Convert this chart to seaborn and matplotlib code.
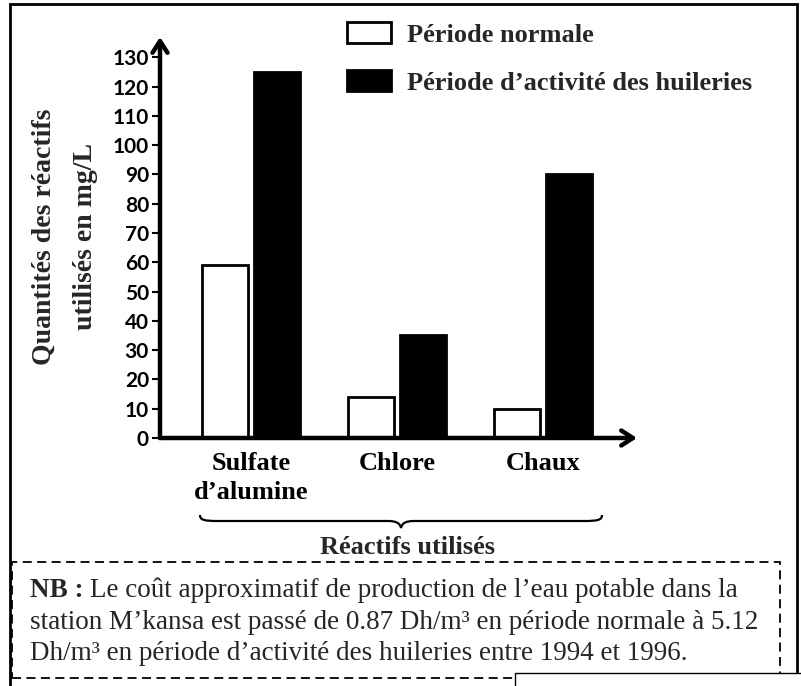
import matplotlib
matplotlib.use("Agg")
import matplotlib.pyplot as plt
from matplotlib.patches import Rectangle, PathPatch, Patch
from matplotlib.path import Path
import pandas as pd
import seaborn as sns

# data
reactifs = ["Sulfate\nd’alumine", "Chlore", "Chaux"]
periodes = ["Période normale", "Période d’activité des huileries"]
normale = [59, 14, 10]
huileries = [125, 35, 90]
yticks = list(range(0, 131, 10))

nb_bold = "NB :"
nb_lines = [
    "Le coût approximatif de production de l’eau potable dans la",
    "station M’kansa est passé de 0.87 Dh/m³ en période normale à 5.12",
    "Dh/m³ en période d’activité des huileries entre 1994 et 1996.",
]

W, H = 801, 686


def fx(x):
    return x / W


def fy(y):
    return 1 - y / H


df = pd.DataFrame({
    "reactif": reactifs * 2,
    "periode": [periodes[0]] * 3 + [periodes[1]] * 3,
    "valeur": normale + huileries,
})

sns.set_theme(style="white")
serif = "Liberation Serif"

fig = plt.figure(figsize=(W / 100, H / 100), dpi=100)
ax = fig.add_axes([fx(160), fy(438), fx(637) - fx(160), (438 - 37) / H])

sns.barplot(data=df, x="reactif", y="valeur", hue="periode",
            palette=["white", "black"], edgecolor="black", linewidth=2,
            saturation=1, width=0.71, gap=0.12, legend=False, ax=ax)

ax.set_xlim(-0.623, 2.644)
ax.set_ylim(0, 136.9)
ax.set_xlabel("")
ax.set_ylabel("")
for s in ax.spines.values():
    s.set_visible(False)

# axes drawn as arrows
arrow = dict(arrowstyle="->, head_width=0.45, head_length=0.7", lw=3.2,
             color="black", shrinkA=0, shrinkB=0)
ax.annotate("", xy=(0, 1), xytext=(0, 0), xycoords="axes fraction", arrowprops=arrow)
ax.annotate("", xy=(1, 0), xytext=(0, 0), xycoords="axes fraction", arrowprops=arrow)

ax.set_yticks(yticks)
ax.tick_params(axis="y", left=True, length=6, width=1.5, color="black", pad=2)
ax.tick_params(axis="x", bottom=False, length=0, pad=10)
for t in ax.get_yticklabels():
    t.set_fontfamily("Lato")
    t.set_fontweight("bold")
    t.set_fontsize(15)
    t.set_color("black")
for t in ax.get_xticklabels():
    t.set_fontfamily(serif)
    t.set_fontweight("bold")
    t.set_fontsize(19)
    t.set_color("black")
    t.set_linespacing(1.36)

fig.text(fx(65), fy(237), "Quantités des réactifs\nutilisés en mg/L", rotation=90,
         ha="center", va="center", multialignment="center", linespacing=1.85,
         fontfamily=serif, fontweight="bold", fontsize=20)

# legend
handles = [Patch(facecolor="white", edgecolor="black", linewidth=2),
           Patch(facecolor="black", edgecolor="black", linewidth=2)]
fig.legend(handles, periodes, loc="upper left", bbox_to_anchor=(fx(347), fy(22)),
           frameon=False, borderpad=0, borderaxespad=0, handlelength=1.67,
           handleheight=0.85, handletextpad=0.6, labelspacing=0.88,
           prop=dict(family=serif, weight="bold", size=19))

# brace under the categories
verts = [(200, 515), (200, 520), (204, 521), (218, 521), (388, 521),
         (396, 521), (400, 523), (401, 528), (402, 523), (406, 521),
         (414, 521), (584, 521), (598, 521), (602, 520), (602, 515)]
codes = [Path.MOVETO, Path.CURVE4, Path.CURVE4, Path.CURVE4, Path.LINETO,
         Path.CURVE4, Path.CURVE4, Path.CURVE4, Path.CURVE4, Path.CURVE4,
         Path.CURVE4, Path.LINETO, Path.CURVE4, Path.CURVE4, Path.CURVE4]
brace = Path([(fx(x), fy(y)) for x, y in verts], codes)
fig.add_artist(PathPatch(brace, transform=fig.transFigure, fill=False, lw=1.6, color="black"))

fig.text(fx(407), fy(547), "Réactifs utilisés", ha="center", va="center",
         fontfamily=serif, fontweight="bold", fontsize=19)

# frames
fig.add_artist(Rectangle((fx(10), fy(720)), fx(797) - fx(10), (720 - 4) / H,
                         transform=fig.transFigure, fill=False, lw=2, ec="black"))
fig.add_artist(Rectangle((fx(12), fy(678)), fx(780) - fx(12), (678 - 562) / H,
                         transform=fig.transFigure, fill=False, lw=1.3, ec="black",
                         ls=(0, (5, 3))))
fig.add_artist(Rectangle((fx(515), fy(720)), fx(802) - fx(515), (720 - 673) / H,
                         transform=fig.transFigure, fc="white", lw=1, ec="black", zorder=5))

# note
t0 = fig.text(fx(30), fy(597), nb_bold, ha="left", va="baseline",
              fontfamily=serif, fontweight="bold", fontsize=19.5)
fig.add_artist(plt.Annotation(nb_lines[0], xy=(1, 0), xycoords=t0, xytext=(5, 0),
                              textcoords="offset points", ha="left", va="bottom",
                              fontfamily=serif, fontsize=19.5))
for i, line in enumerate(nb_lines[1:]):
    fig.text(fx(30), fy(629 + 31 * i), line, ha="left", va="baseline",
             fontfamily=serif, fontsize=19.5)

fig.savefig("out.png", dpi=100)
